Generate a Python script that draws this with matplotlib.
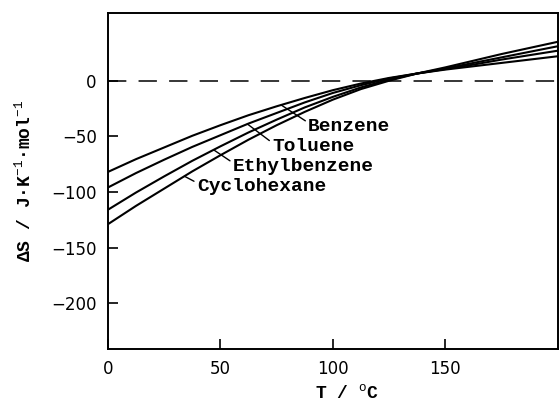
import numpy as np
import matplotlib
matplotlib.use("Agg")
import matplotlib.pyplot as plt

# font parameters (typewriter look of the original)
plt.rcParams["font.family"] = ["Liberation Mono", "DejaVu Sans"]
plt.rcParams["mathtext.fontset"] = "custom"
plt.rcParams["mathtext.rm"] = "Liberation Mono"
plt.rcParams["mathtext.it"] = "Liberation Mono"
plt.rcParams["mathtext.bf"] = "Liberation Mono:bold"

# data
temps = [0, 12.5, 25, 37.5, 50, 62.5, 75, 87.5, 100,
         112.5, 125, 137.5, 150, 162.5, 175, 187.5, 200]
benzene = [-82, -70.5, -60, -49.5, -40, -31, -23, -15.5, -8.5,
           -2.5, 2.5, 6.5, 10, 13, 16, 19, 22]
toluene = [-96, -83, -71, -59.5, -49, -38.5, -29, -19.5, -11,
           -4, 2, 6.5, 10.5, 14.5, 19, 23, 27]
ethylbenzene = [-116, -100.5, -86, -72, -59, -46.5, -35, -24, -14.5,
                -6, 1, 6.5, 11, 16, 21, 26, 31]
cyclohexane = [-129, -112.5, -97, -81.5, -67, -53, -40, -28, -17,
               -7.5, 0, 6.5, 12, 18, 24, 29.5, 35]

names = ["Benzene", "Toluene", "Ethylbenzene", "Cyclohexane"]
series = [benzene, toluene, ethylbenzene, cyclohexane]
# where each leader line touches its curve (T) and where the label sits
leader_T = [77, 62, 47, 34]
label_pos = [(89, -41.5), (73, -59.5), (55.5, -77.5), (39.5, -95.5)]

xticks = [0, 50, 100, 150]
yticks = [0, -50, -100, -150, -200]

# figure construction
fig = plt.figure(figsize=(5.59, 4.08), dpi=100)
ax = fig.add_axes([0.193, 0.145, 0.805, 0.8235])

for vals in series:
    ax.plot(temps, vals, color="black", linewidth=1.5, solid_capstyle="butt")

ax.plot([0, 200], [0, 0], color="black", linewidth=1.1, dashes=(12, 8))

for name, vals, tl, (tx, ty) in zip(names, series, leader_T, label_pos):
    yl = np.interp(tl, temps, vals)
    ax.annotate(name, xy=(tl, yl), xytext=(tx, ty), fontsize=14,
                fontweight="bold", ha="left", va="center",
                arrowprops=dict(arrowstyle="-", color="black", lw=1.0,
                                shrinkA=0, shrinkB=0, relpos=(0, 0.75)))

# plot styling
ax.set_xlim(0, 200)
ax.set_ylim(-241, 61)
ax.set_xticks(xticks)
ax.set_yticks(yticks)
ax.tick_params(direction="in", length=7, width=1.2, pad=8, labelsize=12)
for lab in ax.get_xticklabels() + ax.get_yticklabels():
    lab.set_family("DejaVu Sans")
for sp in ax.spines.values():
    sp.set_linewidth(1.4)

ax.set_xlabel("T / $^{o}$C", fontsize=13, fontweight="bold", labelpad=4)
ax.xaxis.set_label_coords(0.53, -0.105)
ax.set_ylabel("ΔS / J·K$^{-1}$·mol$^{-1}$", fontsize=13, fontweight="bold",
              labelpad=12)

fig.savefig("out.png", dpi=100)
